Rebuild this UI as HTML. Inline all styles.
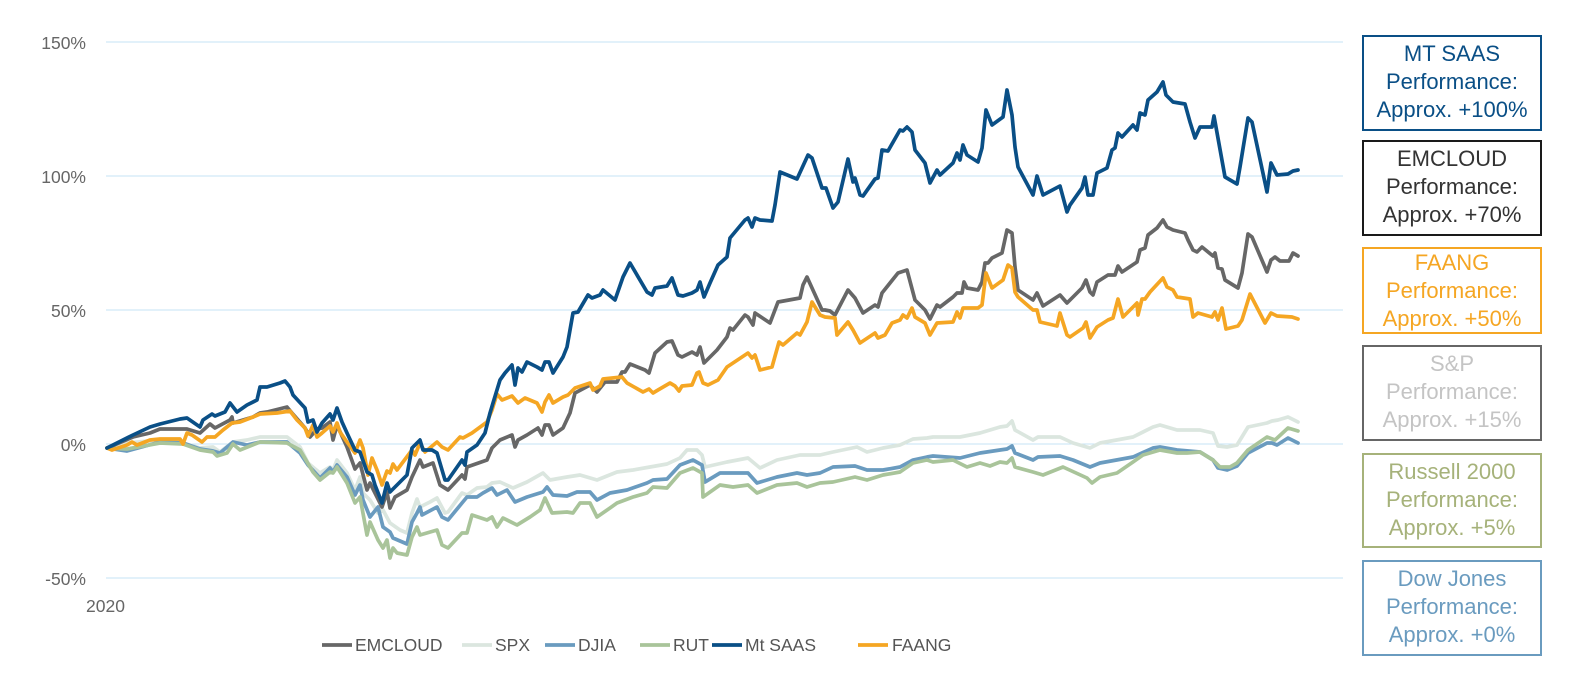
<!DOCTYPE html>
<html><head><meta charset="utf-8"><style>
body{margin:0;background:#fff;width:1580px;height:674px;overflow:hidden;font-family:"Liberation Sans",sans-serif}
.box{position:absolute;left:1362px;width:180px;border:2px solid;text-align:center;font-size:22px;line-height:28px;padding-top:3px;box-sizing:border-box;white-space:nowrap}
</style></head><body>
<svg width="1580" height="674" style="position:absolute;left:0;top:0" font-family="Liberation Sans, sans-serif">
<g stroke="#c6e3f6" stroke-width="1">
<line x1="106" y1="42" x2="1343" y2="42"/><line x1="106" y1="176" x2="1343" y2="176"/><line x1="106" y1="310" x2="1343" y2="310"/><line x1="106" y1="444" x2="1343" y2="444"/><line x1="106" y1="578" x2="1343" y2="578"/>
</g>
<g fill="#666" font-size="17.5" text-anchor="end">
<text x="86" y="49">150%</text><text x="86" y="183">100%</text><text x="86" y="317">50%</text><text x="86" y="451">0%</text><text x="86" y="585">-50%</text>
</g>
<text x="86" y="612" fill="#666" font-size="17.5">2020</text>
<g fill="none" stroke-width="3.7" stroke-linejoin="round" stroke-linecap="round">
<polyline stroke="#dbe6df" points="107,448 127,443 160,440 183,443 200,448 213,447 220,452 233,442 247,440 260,437 287,437 300,447 308,463 320,473 330,467 333,470 337,460 347,473 355,490 360,477 363,493 370,500 378,513 383,510 390,523 400,530 407,533 412,513 417,499 420,507 430,502 437,498 445,513 448,512 462,493 467,495 477,488 487,487 492,483 500,482 513,488 527,482 543,473 550,480 567,477 580,475 597,480 617,472 633,470 650,467 667,464 680,458 687,450 697,450 702,455 705,467 727,462 748,458 760,468 777,460 800,455 820,455 833,452 857,447 867,452 883,448 900,445 913,439 927,438 933,437 960,437 980,433 1000,427 1007,426 1012,421 1015,430 1033,440 1038,437 1060,437 1073,443 1090,448 1100,443 1133,437 1153,427 1160,425 1177,430 1200,430 1213,433 1218,446 1227,447 1237,445 1248,427 1267,423 1272,421 1278,420 1288,417 1298,422"/>
<polyline stroke="#6a9bbf" points="107,448 127,451 160,442 183,443 200,449 213,451 220,453 233,442 247,445 260,442 287,442 300,453 308,465 320,478 330,468 333,472 337,465 347,477 355,495 360,485 363,500 370,517 378,507 383,527 390,532 393,538 407,544 412,522 417,513 420,507 422,515 437,507 442,517 448,520 462,503 467,497 477,497 483,493 492,488 497,495 507,490 515,502 527,497 543,492 547,487 553,495 567,496 577,492 590,492 597,500 610,493 627,490 647,483 653,480 667,479 680,465 693,460 702,465 705,482 720,473 733,473 748,473 757,483 777,477 797,473 807,475 820,473 833,467 855,466 867,470 883,470 900,467 913,460 927,457 933,456 960,458 980,453 1000,450 1007,449 1012,446 1015,453 1033,460 1038,457 1060,456 1073,460 1090,467 1100,463 1133,457 1153,448 1160,447 1177,450 1200,452 1213,460 1218,468 1227,470 1237,466 1248,453 1267,443 1272,443 1277,445 1288,438 1298,443"/>
<polyline stroke="#a9c49a" points="107,448 127,449 160,443 183,444 200,450 213,452 217,456 227,453 233,444 240,450 260,442 287,443 300,450 313,472 320,480 330,472 333,473 337,467 347,483 355,503 360,497 367,535 370,522 378,540 383,548 387,540 390,558 393,548 397,553 407,555 412,537 417,527 420,535 437,530 442,545 448,548 462,533 467,533 472,515 487,520 492,517 497,527 503,518 517,525 530,517 540,510 545,498 552,513 567,512 573,513 580,503 590,503 597,517 610,508 617,503 633,497 647,493 653,487 667,488 680,473 693,468 702,473 703,497 720,485 733,487 748,485 757,493 777,485 797,483 807,487 820,483 833,482 855,477 867,480 883,475 900,472 913,463 927,460 933,462 953,460 967,467 980,463 990,466 1000,462 1007,463 1012,458 1015,467 1033,472 1043,475 1063,467 1087,478 1092,483 1100,477 1117,473 1133,462 1143,455 1160,450 1177,453 1187,453 1200,452 1213,460 1220,467 1230,467 1237,463 1248,450 1267,437 1275,440 1288,428 1298,431"/>
<polyline stroke="#676767" points="107,448 133,437 150,433 160,429 187,429 200,433 210,424 215,428 230,420 232,417 233,423 253,417 260,413 267,412 287,407 292,413 305,428 310,437 317,429 322,428 330,422 333,440 337,425 347,447 355,469 360,463 367,490 370,483 375,493 382,507 387,492 390,508 395,497 407,490 412,477 420,460 423,467 433,463 440,485 448,490 462,475 465,479 467,467 487,460 492,448 500,440 512,435 515,447 518,440 527,435 538,428 542,435 545,425 549,425 553,435 563,428 570,413 575,393 590,385 597,392 605,382 617,382 622,372 625,372 630,364 645,370 649,373 655,353 667,342 672,341 678,355 682,357 692,352 697,355 700,347 704,363 717,350 727,337 730,328 733,330 745,315 748,317 753,325 755,313 770,323 778,302 800,298 803,285 807,277 822,310 825,310 830,311 835,315 848,290 855,298 863,313 875,305 878,307 882,293 898,273 907,270 915,300 925,310 930,319 937,305 940,307 953,297 957,293 962,293 964,282 967,288 978,290 982,282 985,263 988,263 992,258 1002,253 1007,230 1012,233 1015,267 1018,290 1033,300 1037,293 1043,306 1060,295 1067,303 1082,288 1086,280 1090,292 1093,295 1097,282 1108,275 1115,275 1118,266 1122,272 1137,262 1140,250 1145,248 1148,235 1157,228 1163,220 1167,227 1173,230 1185,233 1188,240 1193,250 1197,252 1202,247 1213,256 1215,253 1218,268 1222,269 1225,280 1238,288 1242,273 1248,234 1252,237 1267,272 1271,260 1275,257 1280,261 1289,261 1293,253 1298,256"/>
<polyline stroke="#f5a623" points="107,448 112,450 127,445 132,442 137,445 150,440 160,439 180,439 183,444 187,433 192,435 202,442 207,437 215,437 223,430 232,423 240,422 253,417 260,414 277,413 290,411 297,420 305,428 308,436 313,425 317,437 322,433 330,426 333,432 337,423 340,432 347,442 355,453 360,440 363,448 368,475 372,458 377,470 382,485 387,471 390,473 393,464 397,470 412,450 415,455 420,443 425,452 437,442 442,447 448,450 460,437 463,438 472,433 487,422 492,410 497,394 502,400 512,396 518,403 525,398 537,403 542,412 545,402 549,395 553,403 563,397 568,395 575,388 590,383 593,390 600,386 603,379 622,377 627,383 643,392 649,389 653,393 658,390 670,383 675,386 679,391 682,386 692,385 697,373 699,372 703,383 708,385 718,380 727,367 748,353 752,358 755,355 760,370 772,367 779,342 783,345 797,333 800,335 807,322 812,302 820,315 825,317 835,318 837,335 848,322 853,330 860,343 875,333 878,338 885,335 892,323 900,320 903,315 907,318 912,308 915,317 925,323 930,335 937,323 953,322 957,312 960,318 963,308 978,308 982,305 986,273 992,288 1003,280 1008,265 1012,268 1015,292 1018,297 1033,310 1037,310 1040,322 1053,325 1057,326 1060,313 1067,335 1070,337 1083,328 1086,322 1090,338 1097,327 1108,320 1113,318 1118,299 1123,317 1137,303 1138,315 1142,299 1145,299 1150,292 1163,278 1167,287 1173,290 1177,297 1190,299 1193,317 1198,313 1212,317 1215,312 1218,320 1222,308 1226,329 1238,326 1242,320 1250,294 1265,323 1271,313 1277,316 1292,317 1298,319"/>
<polyline stroke="#0a4f86" points="107,448 133,435 150,427 160,424 180,419 187,418 200,427 203,420 212,414 215,416 225,412 230,403 237,412 247,405 257,400 260,387 267,387 280,383 285,381 290,387 293,395 305,408 308,422 313,420 317,432 322,423 330,414 333,420 337,408 342,422 347,433 355,450 360,452 367,472 372,475 375,485 382,503 387,483 390,492 400,482 407,475 412,448 420,440 423,450 432,450 437,453 445,480 448,480 462,460 465,465 467,452 477,445 485,433 490,413 493,403 500,380 505,373 512,365 515,385 518,368 522,372 527,362 537,367 542,370 545,362 549,362 553,373 563,357 567,347 573,313 578,312 588,295 592,298 600,295 603,290 615,300 623,277 630,263 647,292 652,295 655,288 667,286 672,278 678,295 683,296 692,293 697,290 700,282 704,297 710,283 718,265 727,257 730,238 745,220 748,218 752,227 755,218 760,220 772,221 775,205 780,172 797,179 808,155 812,158 822,188 826,188 833,208 838,202 848,159 853,182 855,178 860,195 863,196 875,179 878,178 882,150 888,151 900,130 903,131 907,127 912,132 915,150 925,163 930,183 937,170 940,175 953,163 957,153 960,160 963,145 967,155 978,162 982,148 986,110 992,125 1003,117 1007,90 1012,115 1015,147 1018,167 1033,195 1037,176 1043,195 1060,186 1067,212 1070,205 1082,188 1085,177 1088,195 1093,195 1097,173 1107,168 1112,150 1115,148 1118,133 1122,137 1133,125 1137,130 1140,113 1145,115 1148,100 1157,92 1163,82 1166,95 1173,102 1185,104 1190,122 1195,138 1200,127 1212,127 1214,116 1225,177 1237,184 1240,167 1248,118 1252,122 1267,192 1271,163 1277,175 1288,174 1293,171 1298,170"/>
</g>
<g stroke-width="3.7">
<line x1="322" y1="645" x2="352" y2="645" stroke="#676767"/>
<line x1="462" y1="645" x2="492" y2="645" stroke="#dbe6df"/>
<line x1="545" y1="645" x2="575" y2="645" stroke="#6a9bbf"/>
<line x1="640" y1="645" x2="670" y2="645" stroke="#a9c49a"/>
<line x1="712" y1="645" x2="742" y2="645" stroke="#0a4f86"/>
<line x1="858" y1="645" x2="888" y2="645" stroke="#f5a623"/>
</g>
<g fill="#555" font-size="17.5">
<text x="355" y="651">EMCLOUD</text><text x="495" y="651">SPX</text><text x="578" y="651">DJIA</text><text x="673" y="651">RUT</text><text x="745" y="651">Mt SAAS</text><text x="892" y="651">FAANG</text>
</g>
</svg>
<div class="box" style="top:35px;height:96px;border-color:#0a4f86;color:#0a4f86">MT SAAS<br>Performance:<br>Approx. +100%</div>
<div class="box" style="top:140px;height:96px;border-color:#1a1a1a;color:#333">EMCLOUD<br>Performance:<br>Approx. +70%</div>
<div class="box" style="top:247px;height:87px;border-color:#f5a623;color:#f5a623;padding-top:0">FAANG<br>Performance:<br>Approx. +50%</div>
<div class="box" style="top:345px;height:96px;border-color:#666;color:#c4c4c4">S&amp;P<br>Performance:<br>Approx. +15%</div>
<div class="box" style="top:453px;height:95px;border-color:#a6b27a;color:#a6b27a">Russell 2000<br>Performance:<br>Approx. +5%</div>
<div class="box" style="top:560px;height:96px;border-color:#6a9bbf;color:#6a9bbf">Dow Jones<br>Performance:<br>Approx. +0%</div>
</body></html>
